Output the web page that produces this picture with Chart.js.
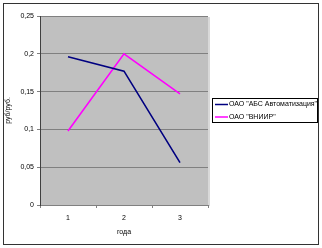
<!DOCTYPE html>
<html>
<head>
<meta charset="utf-8">
<script src="https://cdn.jsdelivr.net/npm/chart.js@4"></script>
<style>
  html, body { margin: 0; padding: 0; background: #fff; }
  #wrap { width: 322px; height: 248px; }
</style>
</head>
<body>
<div id="wrap"><canvas id="chart" width="322" height="248"></canvas></div>
<script>
// years (категории) and two series
const years = ['1', '2', '3'];
const absValues = [0.196, 0.177, 0.056];
const vniirValues = [0.098, 0.2, 0.147];
const seriesNames = ['ОАО "АБС Автоматизация"', 'ОАО "ВНИИР"'];
const seriesColors = ['#000080', '#FF00FF'];
const yMax = 0.25;
const yStep = 0.05;

const FONT = 'Liberation Sans, Arial, sans-serif';

// grey plot background, outer frame and the boxed legend on the right
const frame = {
  id: 'frame',
  beforeDraw(chart) {
    const { ctx, chartArea: a } = chart;
    ctx.save();
    ctx.fillStyle = '#d9d9d9';
    ctx.fillRect(a.right, a.top + 1, 2, a.bottom - a.top);
    ctx.fillStyle = '#c0c0c0';
    ctx.fillRect(a.left, a.top, a.right - a.left, a.bottom - a.top);
    ctx.restore();
  },
  afterDraw(chart) {
    const ctx = chart.ctx;
    ctx.save();
    ctx.strokeStyle = '#333';
    ctx.lineWidth = 1;
    ctx.strokeRect(3.5, 3.5, 315, 241);
    // legend
    ctx.strokeStyle = '#000';
    ctx.strokeRect(212.5, 98.5, 105, 24);
    ctx.font = '7px ' + FONT;
    ctx.textBaseline = 'middle';
    chart.data.datasets.forEach((ds, i) => {
      const y = 104.5 + i * 12.5;
      ctx.strokeStyle = ds.borderColor;
      ctx.lineWidth = 1.5;
      ctx.beginPath();
      ctx.moveTo(215, y);
      ctx.lineTo(228, y);
      ctx.stroke();
      ctx.fillStyle = '#000';
      ctx.fillText(ds.label, 229, y);
    });
    ctx.restore();
  }
};

new Chart(document.getElementById('chart'), {
  type: 'line',
  data: {
    labels: years,
    datasets: [
      { label: seriesNames[0], data: absValues, borderColor: seriesColors[0] },
      { label: seriesNames[1], data: vniirValues, borderColor: seriesColors[1] }
    ].map(d => Object.assign(d, { borderWidth: 1.6, pointRadius: 0, tension: 0, fill: false }))
  },
  options: {
    responsive: false,
    animation: false,
    layout: { padding: { left: 4, top: 16, right: 114, bottom: 12 } },
    plugins: { legend: { display: false }, tooltip: { enabled: false } },
    scales: {
      x: {
        offset: true,
        grid: { offset: true, drawOnChartArea: false, tickLength: 3, color: '#808080' },
        border: { color: '#808080' },
        ticks: { color: '#000', font: { family: FONT, size: 7 }, padding: 6, maxRotation: 0 },
        title: { display: true, text: 'года', color: '#000', font: { family: FONT, size: 7 }, padding: { top: 3, bottom: 0 } },
        afterFit(s) { s.height = 31; }
      },
      y: {
        min: 0,
        max: yMax,
        ticks: {
          stepSize: yStep,
          color: '#000',
          font: { family: FONT, size: 7 },
          padding: 3,
          callback: v => String(Math.round(v * 100) / 100).replace('.', ',')
        },
        grid: { color: '#808080', tickLength: 3, drawTicks: true },
        border: { color: '#404040' },
        title: { display: true, text: 'руб/руб.', color: '#000', font: { family: FONT, size: 7 }, padding: 0 },
        afterFit(s) { s.width = 36; }
      }
    }
  },
  plugins: [frame]
});
</script>
</body>
</html>
